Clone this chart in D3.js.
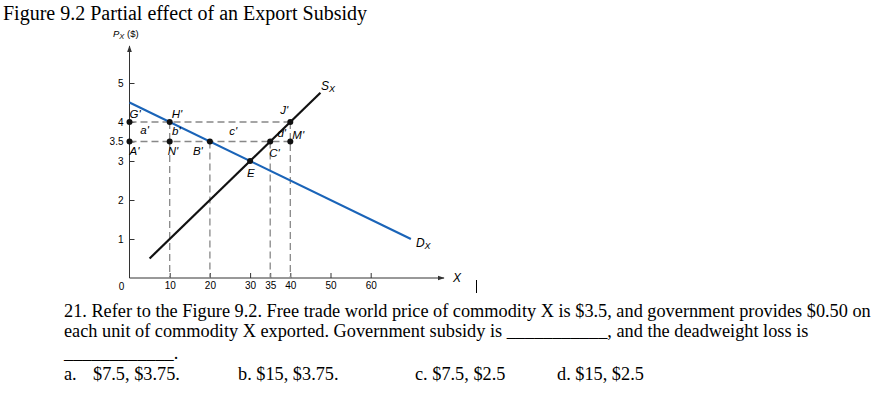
<!DOCTYPE html>
<html><head><meta charset="utf-8">
<script src="https://cdn.jsdelivr.net/npm/d3@7/dist/d3.min.js"></script>
<style>body{margin:0;background:#fff;}svg{display:block;}</style>
</head><body>
<script>
const xTicks = [10, 20, 30, 35, 40, 50, 60];
const yTicks = [1, 2, 3, 3.5, 4, 5];
const supplyLine = [[5, 0.5], [47.5, 4.75]];
const demandLine = [[0, 4.5], [70, 1]];
const pointNames = ["G'", "A'", "H'", "N'", "B'", "E", "C'", "J'", "M'"];
const pointX = [0, 0, 10, 10, 20, 30, 35, 40, 40];
const pointY = [4, 3.5, 4, 3.5, 3.5, 3, 3.5, 4, 3.5];
const hDashes = [[0, 40, 4], [0, 40, 3.5]];          // x1, x2, y
const vDashes = [[10, 4], [20, 3.5], [35, 3.5], [40, 4]]; // x, top y
const areaNames = ["a'", "b'", "c'", "d'"];
const areaX = [2.7, 10.6, 24.8, 36.8];
const areaY = [3.7, 3.66, 3.67, 3.62];
const title = "Figure 9.2 Partial effect of an Export Subsidy";
const questionLines = [
  "21. Refer to the Figure 9.2. Free trade world price of commodity X is $3.5, and government provides $0.50 on",
  "each unit of commodity X exported. Government subsidy is ___________, and the deadweight loss is",
  "____________."
];
const options = ["a.", "$7.5, $3.75.", "b. $15, $3.75.", "c. $7.5, $2.5", "d. $15, $2.5"];

const W = 892, H = 395;
const svg = d3.select("body").append("svg").attr("width", W).attr("height", H);
const x = d3.scaleLinear().domain([0, 10]).range([129.5, 169.7]);
const y = d3.scaleLinear().domain([0, 1]).range([278, 239]);

svg.append("text").attr("x", 3).attr("y", 20).attr("font-family", "Liberation Serif")
  .attr("font-size", 20).attr("fill", "#000").text(title);

const defs = svg.append("defs");
defs.append("marker").attr("id", "arr").attr("viewBox", "0 0 10 10").attr("refX", 9).attr("refY", 5)
  .attr("markerWidth", 7).attr("markerHeight", 7).attr("orient", "auto")
  .append("path").attr("d", "M0,1.5L10,5L0,8.5Z").attr("fill", "#333");

const g = svg.append("g");
g.append("line").attr("x1", x(0)).attr("y1", y(0)).attr("x2", 444).attr("y2", y(0))
  .attr("stroke", "#333").attr("stroke-width", 1).attr("marker-end", "url(#arr)");
g.append("line").attr("x1", x(0)).attr("y1", y(0)).attr("x2", x(0)).attr("y2", 46)
  .attr("stroke", "#333").attr("stroke-width", 1).attr("marker-end", "url(#arr)");

const yAxis = d3.axisLeft(y).tickValues(yTicks).tickSize(-5).tickPadding(6)
  .tickFormat(d => d === 3.5 ? "3.5" : d3.format("d")(d));
const ya = g.append("g").attr("transform", `translate(${x(0)},0)`).call(yAxis);
ya.select(".domain").remove();
ya.selectAll("line").attr("stroke", "#333");
ya.selectAll("text").attr("font-family", "Liberation Sans").attr("font-size", 10).attr("fill", "#000");

const xAxis = d3.axisBottom(x).tickValues(xTicks).tickSize(-5).tickPadding(4).tickFormat(d3.format("d"));
const xa = g.append("g").attr("transform", `translate(0,${y(0)})`).call(xAxis);
xa.select(".domain").remove();
xa.selectAll("line").attr("stroke", "#333");
xa.selectAll("text").attr("font-family", "Liberation Sans").attr("font-size", 10).attr("fill", "#000");
g.append("text").attr("x", x(0) - 8).attr("y", y(0) + 11.5).attr("text-anchor", "middle")
  .attr("font-family", "Liberation Sans").attr("font-size", 10).text("0");

const yl = g.append("text").attr("x", 113).attr("y", 37).attr("font-family", "Liberation Sans").attr("font-size", 9.5);
yl.append("tspan").attr("font-style", "italic").text("P");
yl.append("tspan").attr("font-style", "italic").attr("font-size", 7.5).attr("dy", 2).text("X");
yl.append("tspan").attr("dy", -2).text(" ($)");
g.append("text").attr("x", 453).attr("y", 282).attr("font-family", "Liberation Sans")
  .attr("font-style", "italic").attr("font-size", 12).text("X");
g.append("line").attr("x1", 476.5).attr("x2", 476.5).attr("y1", 280).attr("y2", 293).attr("stroke", "#000").attr("stroke-width", 1);

hDashes.forEach(d => g.append("line").attr("x1", x(d[0])).attr("x2", x(d[1])).attr("y1", y(d[2])).attr("y2", y(d[2]))
  .attr("stroke", "#888").attr("stroke-width", 1.3).attr("stroke-dasharray", "7,4"));
vDashes.forEach(d => g.append("line").attr("x1", x(d[0])).attr("x2", x(d[0])).attr("y1", y(d[1])).attr("y2", y(0))
  .attr("stroke", "#888").attr("stroke-width", 1.3).attr("stroke-dasharray", "7,4"));

const line = d3.line().x(d => x(d[0])).y(d => y(d[1]));
g.append("path").attr("d", line(demandLine)).attr("stroke", "#1a64b8").attr("stroke-width", 2.2).attr("fill", "none");
g.append("path").attr("d", line(supplyLine)).attr("stroke", "#111").attr("stroke-width", 2.2).attr("fill", "none");

pointX.forEach((px, i) => g.append("circle").attr("cx", x(px)).attr("cy", y(pointY[i])).attr("r", 3).attr("fill", "#111"));

const labelOff = {"G'": [0, -4], "A'": [0, 13], "H'": [2, -4], "N'": [-2, 13], "B'": [-17, 13], "E": [-3, 16], "C'": [-1, 15], "J'": [-10, -8], "M'": [2, -3]};
const lbl = g.append("g").attr("font-family", "Liberation Sans").attr("font-style", "italic").attr("font-size", 11.5);
pointNames.forEach((n, i) => lbl.append("text").attr("x", x(pointX[i]) + labelOff[n][0]).attr("y", y(pointY[i]) + labelOff[n][1]).text(n));
areaNames.forEach((n, i) => lbl.append("text").attr("x", x(areaX[i])).attr("y", y(areaY[i])).text(n));

const sl = lbl.append("text").attr("x", x(supplyLine[1][0]) + 0.5).attr("y", y(supplyLine[1][1]) - 3).attr("font-size", 12);
sl.append("tspan").text("S"); sl.append("tspan").attr("font-size", 9).attr("dy", 2).text("X");
const dl = lbl.append("text").attr("x", x(demandLine[1][0]) + 5).attr("y", y(demandLine[1][1]) + 8).attr("font-size", 12);
dl.append("tspan").text("D"); dl.append("tspan").attr("font-size", 9).attr("dy", 2).text("X");

const qt = svg.append("g").attr("font-family", "Liberation Serif").attr("font-size", 18.3).attr("fill", "#000");
const qy = [316.5, 336.5, 358.5];
questionLines.forEach((t, i) => qt.append("text").attr("x", 64).attr("y", qy[i]).style("white-space", "pre").text(t));
const ox = [64, 93, 238, 415, 557];
options.forEach((t, i) => qt.append("text").attr("x", ox[i]).attr("y", 380).style("white-space", "pre").text(t));
</script>
</body></html>
